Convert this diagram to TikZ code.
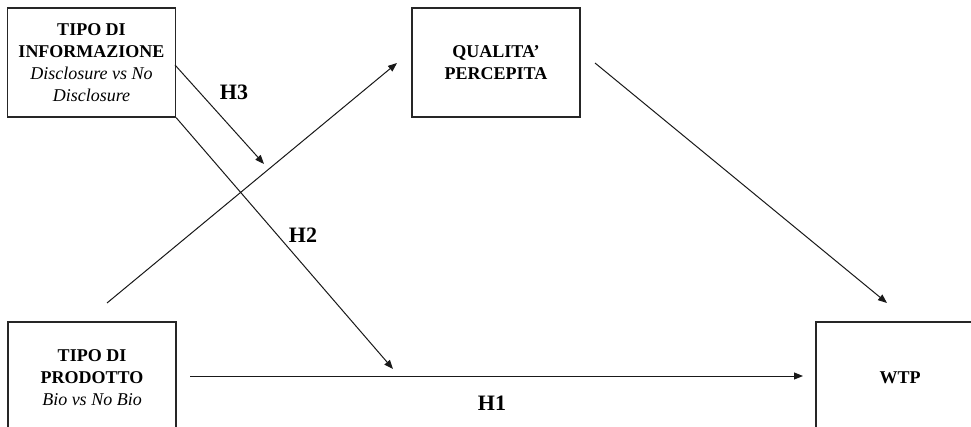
\documentclass[tikz,border=0pt]{standalone}
\usepackage{fontspec}
\setmainfont{Liberation Serif}
\usetikzlibrary{arrows.meta}
\begin{document}
\begin{tikzpicture}[x=1pt,y=-1pt,
  box/.style={draw=black!85, line width=1.2pt, minimum width=168pt, minimum height=109pt,
    align=center, font=\fontsize{18}{22}\selectfont, inner sep=0pt},
  arr/.style={draw=black!90, line width=1pt, -{Triangle[length=9pt,width=7pt]}},
  hlab/.style={font=\fontsize{22}{26}\selectfont\bfseries}]
\useasboundingbox (0,0) rectangle (971,427);
\clip (0,0) rectangle (971,427);
\fill[white] (0,0) rectangle (971,427);
% boxes
\node[box] (info) at (91.5,62.5) {\textbf{TIPO DI}\\\textbf{INFORMAZIONE}\\\textit{Disclosure vs No}\\\textit{Disclosure}};
\node[box] (qual) at (496,62.5) {\textbf{QUALITA'}\\\textbf{PERCEPITA}};
\node[box, minimum height=112pt] (prod) at (92,378) {\textbf{TIPO DI}\\\textbf{PRODOTTO}\\\textit{Bio vs No Bio}};
\node[box, minimum height=112pt] (wtp) at (900,378) {\textbf{WTP}};
% connector coordinates
\coordinate (h3s) at (175,65);
\coordinate (h3e) at (264,164);
\coordinate (h2e) at (393,369);
\coordinate (pqs) at (107,303);
\coordinate (pqe) at (397,63);
\coordinate (qws) at (595,63);
\coordinate (qwe) at (887,303);
\coordinate (pws) at (190,376);
\coordinate (pwe) at (803,376);
% arrows
\draw[arr] (h3s) -- (h3e);
\draw[arr] (info.south east) -- (h2e);
\draw[arr] (pqs) -- (pqe);
\draw[arr] (qws) -- (qwe);
\draw[arr] (pws) -- (pwe);
% labels
\node[hlab] (lh3) at (234,92) {H3};
\node[hlab] (lh2) at (303,235) {H2};
\node[hlab] (lh1) at (492,403) {H1};
\end{tikzpicture}
\end{document}
